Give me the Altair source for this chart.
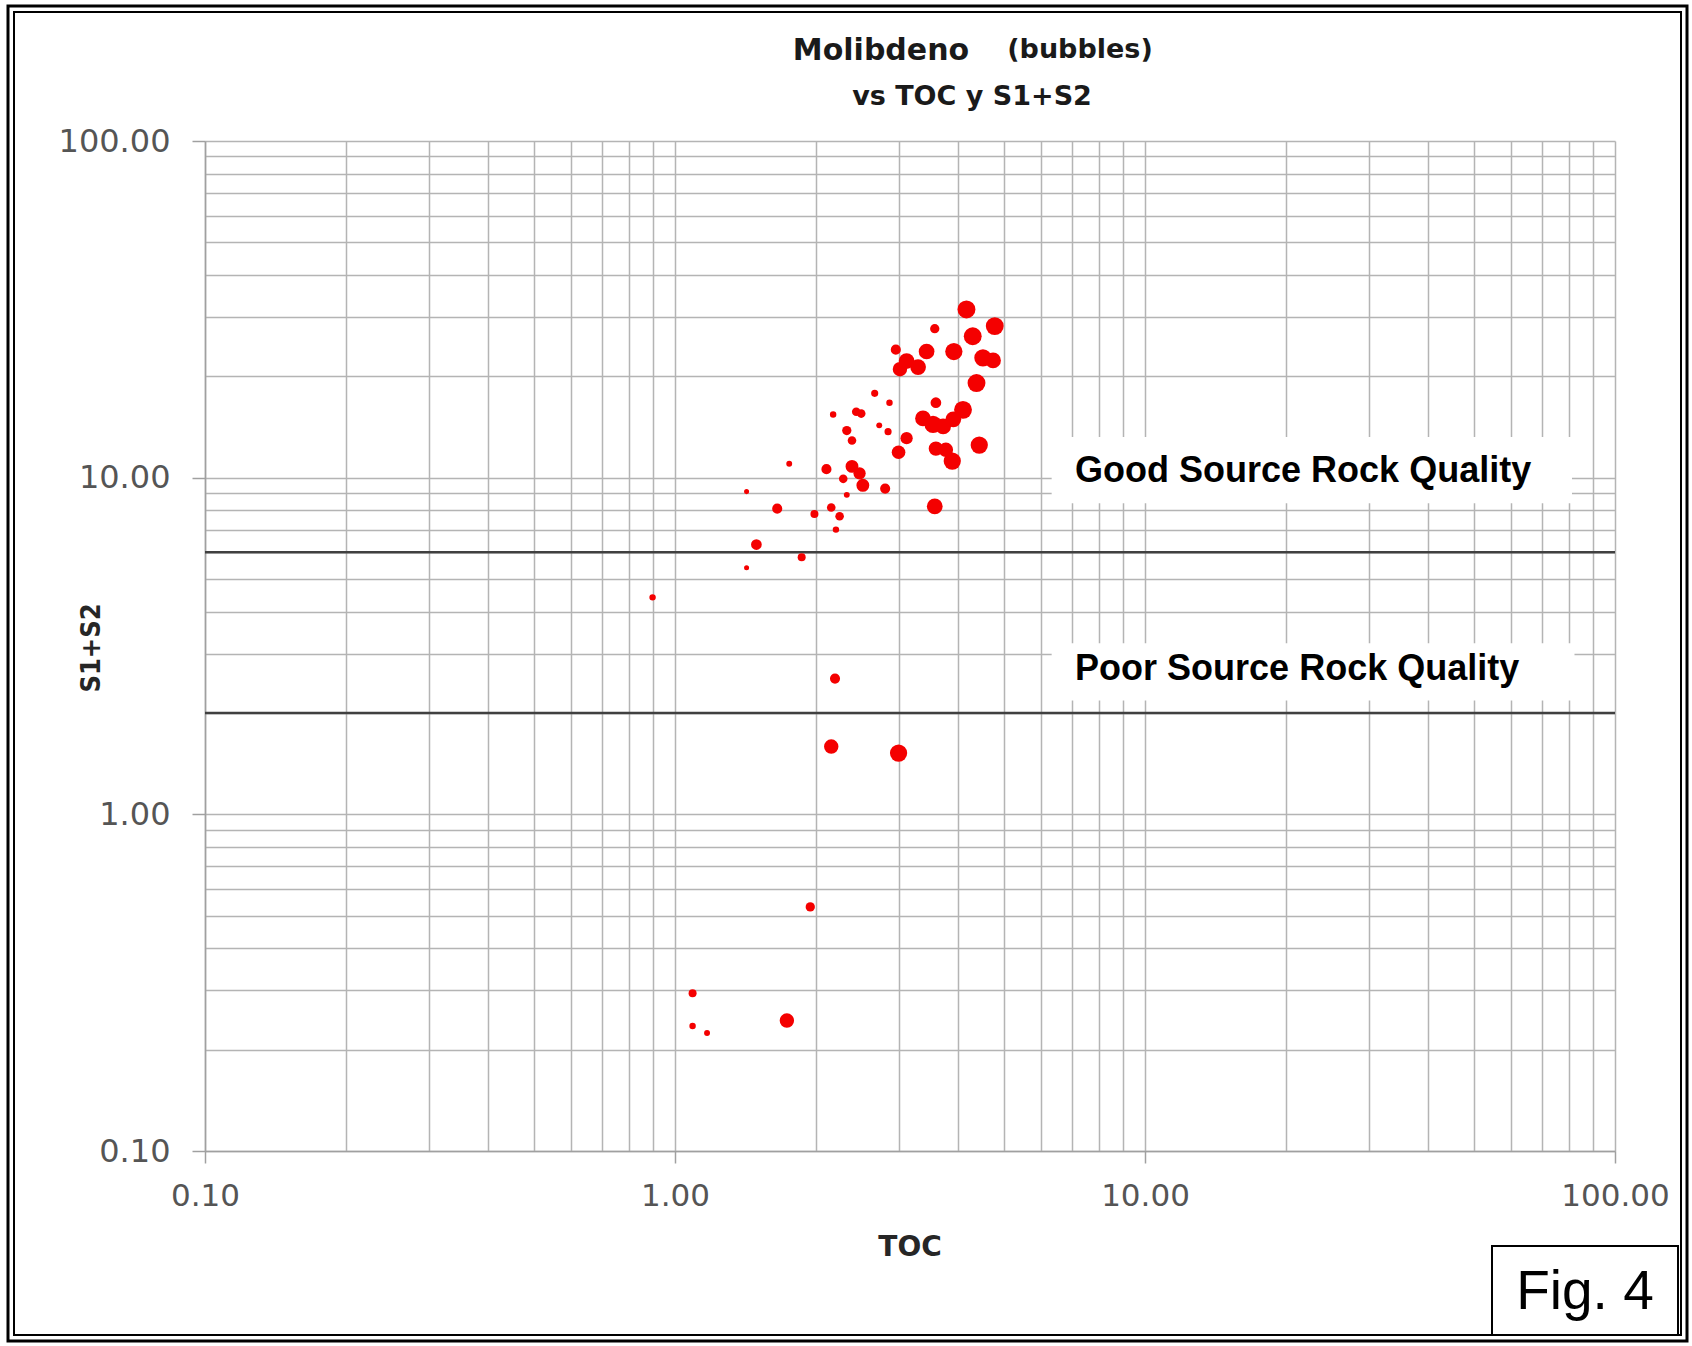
import altair as alt
import pandas as pd

# Samples: total organic carbon (wt%), S1+S2 (mg HC/g rock), molybdenum (ppm, bubble size)
toc = [4.17, 4.79, 3.57, 4.30, 2.95, 3.43, 3.92, 4.52, 4.75, 3.11,
       3.29, 3.01, 4.38, 2.66, 2.86, 2.17, 2.43, 2.49, 3.59, 3.37,
       3.54, 3.72, 3.91, 4.10, 2.32, 2.38, 2.72, 2.84, 3.11, 2.99,
       4.44, 3.59, 3.77, 3.89, 1.75, 2.10, 2.38, 2.47, 2.51, 2.28,
       2.80, 3.57, 1.42, 1.65, 2.32, 2.15, 1.98, 2.24, 2.20, 1.49,
       1.86, 1.42, 0.896, 2.19, 2.15, 2.99, 1.94, 1.09, 1.09, 1.17,
       1.73]
s1_s2 = [31.6, 28.2, 27.7, 26.3, 24.0, 23.7, 23.7, 22.7, 22.3, 22.2,
         21.3, 21.0, 19.1, 17.8, 16.7, 15.4, 15.7, 15.5, 16.7, 15.0,
         14.4, 14.2, 14.9, 15.9, 13.8, 12.9, 14.3, 13.7, 13.1, 11.9,
         12.5, 12.2, 12.1, 11.2, 11.0, 10.6, 10.8, 10.3, 9.49, 9.92,
         9.28, 8.22, 9.09, 8.09, 8.89, 8.15, 7.80, 7.68, 7.01, 6.33,
         5.80, 5.40, 4.41, 2.53, 1.59, 1.52, 0.531, 0.294, 0.235, 0.224,
         0.244]
molybdenum = [100, 100, 27, 100, 32, 77, 93, 93, 77, 77,
              77, 65, 100, 16, 13, 13, 23, 23, 36, 77,
              93, 77, 77, 100, 27, 23, 11, 16, 47, 58,
              93, 65, 65, 93, 11, 32, 52, 47, 52, 23,
              32, 77, 8, 32, 11, 23, 20, 23, 13, 36,
              20, 8, 13, 32, 65, 93, 27, 20, 13, 11,
              65]

# Source-rock quality limits on S1+S2
threshold_s = [6, 2]

# Quality captions and the white panels behind them
quality_text = ["Good Source Rock Quality", "Poor Source Rock Quality"]
quality_toc = [7.1, 7.1]
quality_s = [10.5, 2.7]
panel_toc_lo = [6.33, 6.33]
panel_toc_hi = [81.0, 82.0]
panel_s_lo = [8.4, 2.18]
panel_s_hi = [13.2, 3.22]

# Log grid: every 1..9 x 10^k between 0.1 and 100
grid_values = [0.1, 0.2, 0.3, 0.4, 0.5, 0.6, 0.7, 0.8, 0.9,
               1, 2, 3, 4, 5, 6, 7, 8, 9,
               10, 20, 30, 40, 50, 60, 70, 80, 90, 100]

samples = pd.DataFrame({"toc": toc, "s": s1_s2, "mo": molybdenum})
limits = pd.DataFrame({"s": threshold_s})
captions = pd.DataFrame({"toc": quality_toc, "s": quality_s, "label": quality_text})
panels = pd.DataFrame({"toc": panel_toc_lo, "toc2": panel_toc_hi,
                       "s": panel_s_lo, "s2": panel_s_hi})
one = pd.DataFrame({"k": [0]})

MAJOR = "abs(log(datum.value) / LN10 - round(log(datum.value) / LN10)) < 0.001"
GRID = "#b4b4b4"
LINE = "#a0a0a0"

x_scale = alt.Scale(type="log", domain=[0.1, 100], nice=False)
y_scale = alt.Scale(type="log", domain=[0.1, 100], nice=False)


def make_axis(tick_size, pad, font_size):
    return alt.Axis(
        values=grid_values,
        grid=True, gridColor=GRID, gridWidth=1.5,
        domainColor=LINE, domainWidth=1.5,
        ticks=True, tickSize=tick_size, tickColor=LINE, tickWidth=1.5,
        tickOpacity={"condition": {"test": MAJOR, "value": 1}, "value": 0},
        labelExpr=f"({MAJOR}) ? format(datum.value, '.2f') : ''",
        labelFont="DejaVu Sans", labelFontSize=font_size, labelColor="#555555",
        labelPadding=pad, labelOverlap=False, labelFlush=False,
    )


x_axis = make_axis(12, 18, 31)
y_axis = make_axis(13, 22, 32)


def xq(field):
    return alt.X(f"{field}:Q", scale=x_scale, axis=x_axis, title=None)


def yq(field):
    return alt.Y(f"{field}:Q", scale=y_scale, axis=y_axis, title=None)


panel_layer = alt.Chart(panels).mark_rect(color="white").encode(
    x=xq("toc"), x2="toc2:Q", y=yq("s"), y2="s2:Q"
)

limit_layer = alt.Chart(limits).mark_rule(color="#404040", strokeWidth=2.5).encode(
    y=yq("s")
)

caption_layer = alt.Chart(captions).mark_text(
    align="left", baseline="middle", font="Liberation Sans, Arial, sans-serif",
    fontSize=36, fontWeight="bold", color="black"
).encode(x=xq("toc"), y=yq("s"), text="label:N")

bubble_layer = alt.Chart(samples).mark_circle(color="#f40000", opacity=1).encode(
    x=xq("toc"),
    y=yq("s"),
    size=alt.Size("mo:Q", scale=alt.Scale(domain=[0, 100], range=[0, 320]), legend=None),
)


def label(text, x, y, size, font="DejaVu Sans", weight="bold", angle=0, color="#1a1a1a"):
    return alt.Chart(one).mark_text(
        text=text, align="center", baseline="middle", font=font,
        fontSize=size, fontWeight=weight, angle=angle, color=color
    ).encode(x=alt.value(x), y=alt.value(y))


def frame(x1, y1, x2, y2, width):
    return alt.Chart(one).mark_rect(
        fill="transparent", stroke="black", strokeWidth=width
    ).encode(x=alt.value(x1), x2=alt.value(x2), y=alt.value(y1), y2=alt.value(y2))


title_a = label("Molibdeno", 676, -90, 30)
title_b = label("(bubbles)", 875, -91, 27)
title_c = label("vs TOC y S1+S2", 767, -44, 27)
x_title = label("TOC", 705, 1107, 28, color="#262626")
y_title = label("S1+S2", -113, 507, 27,
                font="Liberation Sans Narrow, DejaVu Sans Condensed, sans-serif",
                angle=270, color="#262626")

outer_frame = frame(-197, -135, 1482, 1200, 3)
inner_frame = frame(-191, -129, 1476, 1194, 2)
fig_box = frame(1287, 1105, 1473, 1194, 2)
fig_text = label("Fig. 4", 1380, 1151, 55, font="Liberation Sans, Arial, sans-serif",
                 weight="normal", color="black")

chart = alt.layer(
    panel_layer, limit_layer, caption_layer, bubble_layer,
    title_a, title_b, title_c, x_title, y_title,
    outer_frame, inner_frame, fig_box, fig_text,
).properties(
    width=1410,
    height=1010,
    autosize=alt.AutoSizeParams(type="none"),
    padding={"left": 205, "top": 141, "right": 77, "bottom": 195},
    background="white",
).configure_view(strokeWidth=0)

chart.save("out.html", embed_options={"renderer": "svg", "actions": False})
